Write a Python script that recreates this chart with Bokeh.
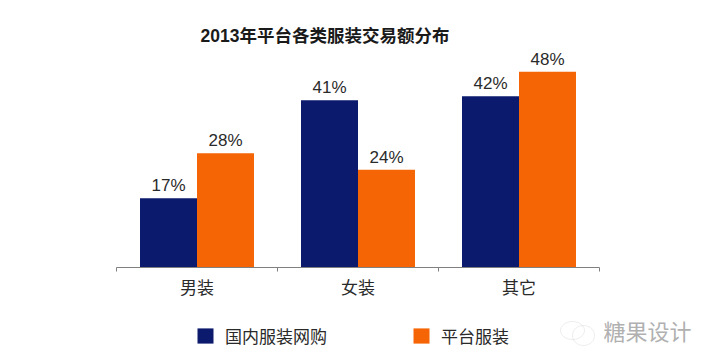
from bokeh.embed import file_html
from bokeh.resources import INLINE
from bokeh.plotting import figure
from bokeh.layouts import column
from bokeh.models import ColumnDataSource, FixedTicker, Legend, LegendItem, Label, PolyAnnotation
import numpy as np

categories = ["男装", "女装", "其它"]
domestic = [17, 41, 42]
platform = [28, 24, 48]
series_names = ["国内服装网购", "平台服装"]
title = "2013年平台各类服装交易额分布"
watermark = "糖果设计"

NAVY = "#0B1A6C"
ORANGE = "#F56505"
FONT = "Liberation Sans, Noto Sans CJK SC"
TEXT = "#2a2a2a"
BAR_W = 0.354

p = figure(width=716, height=297, output_backend="svg", toolbar_location=None,
           x_range=(0, 3), y_range=(0, 54.2),
           frame_width=483, frame_height=221, frame_align=False,
           min_border_left=116, min_border_right=117, min_border_top=46, min_border_bottom=30,
           outline_line_color=None, background_fill_color="white", border_fill_color="white")

centers = np.arange(len(categories)) + 0.5
s1 = ColumnDataSource(dict(x=centers - BAR_W / 2, top=domestic, label=[f"{v}%" for v in domestic]))
s2 = ColumnDataSource(dict(x=centers + BAR_W / 2, top=platform, label=[f"{v}%" for v in platform]))

p.vbar(x="x", top="top", bottom=0, width=BAR_W, source=s1, fill_color=NAVY, line_color=None)
p.vbar(x="x", top="top", bottom=0, width=BAR_W, source=s2, fill_color=ORANGE, line_color=None)

for s in (s1, s2):
    p.text(x="x", y="top", text="label", source=s, text_align="center", text_baseline="bottom",
           text_font_size="17px", text_color=TEXT, y_offset=-3,
           text_font={"value": FONT})

p.grid.visible = False
p.yaxis.visible = False
ax = p.xaxis[0]
ax.ticker = FixedTicker(ticks=list(centers), minor_ticks=[0, 1, 2, 3])
ax.major_label_overrides = {float(c): n for c, n in zip(centers, categories)}
ax.major_tick_out = 0
ax.major_tick_in = 0
ax.minor_tick_out = 4
ax.minor_tick_in = 0
ax.minor_tick_line_color = "#808080"
ax.axis_line_color = "#808080"
ax.axis_line_width = 1
ax.major_label_standoff = 7
ax.major_label_text_font = FONT
ax.major_label_text_font_size = "17px"
ax.major_label_text_color = TEXT

p.title.text = title
p.title.text_font = FONT
p.title.text_font_size = "17.5px"
p.title.text_font_style = "bold"
p.title.text_color = "#1a1a1a"
p.title.align = "left"
p.title.offset = 84
p.title.standoff = 2

# lower strip: legend and watermark; its bars lie outside its range, only the legend keys show
q = figure(width=716, height=67, output_backend="svg", toolbar_location=None,
           x_range=(10, 11), y_range=(100, 101), min_border=0, frame_align=False,
           outline_line_color=None, background_fill_color="white", border_fill_color="white")
q.axis.visible = False
q.grid.visible = False
k1 = q.vbar(x="x", top="top", bottom="top", width=BAR_W, source=s1, fill_color=NAVY, line_color=None)
k2 = q.vbar(x="x", top="top", bottom="top", width=BAR_W, source=s2, fill_color=ORANGE, line_color=None)

legend = Legend(items=[LegendItem(label=series_names[0], renderers=[k1], index=0),
                       LegendItem(label=series_names[1], renderers=[k2], index=0)],
                orientation="horizontal", location=(195, 19),
                glyph_width=20, glyph_height=19, label_standoff=10, spacing=84,
                label_text_font=FONT, label_text_font_size="17px", label_text_color=TEXT,
                border_line_color=None, background_fill_alpha=0, margin=0, padding=0)
q.add_layout(legend)

q.add_layout(Label(x=603, y=23, x_units="screen", y_units="screen", text=watermark,
                   text_font=FONT, text_font_size="22px", text_color="#b0b0b0"))
t = np.linspace(0, 2 * np.pi, 30)
for cx, cy, rx, ry in [(572, 37, 12, 9), (583, 32, 11, 10)]:
    q.add_layout(PolyAnnotation(xs=list(cx + rx * np.cos(t)), ys=list(cy + ry * np.sin(t)),
                                xs_units="screen", ys_units="screen",
                                fill_alpha=0, line_color="#c4c4c4", line_width=1))

open("out.html", "w").write(file_html(column(p, q, spacing=0), INLINE))
